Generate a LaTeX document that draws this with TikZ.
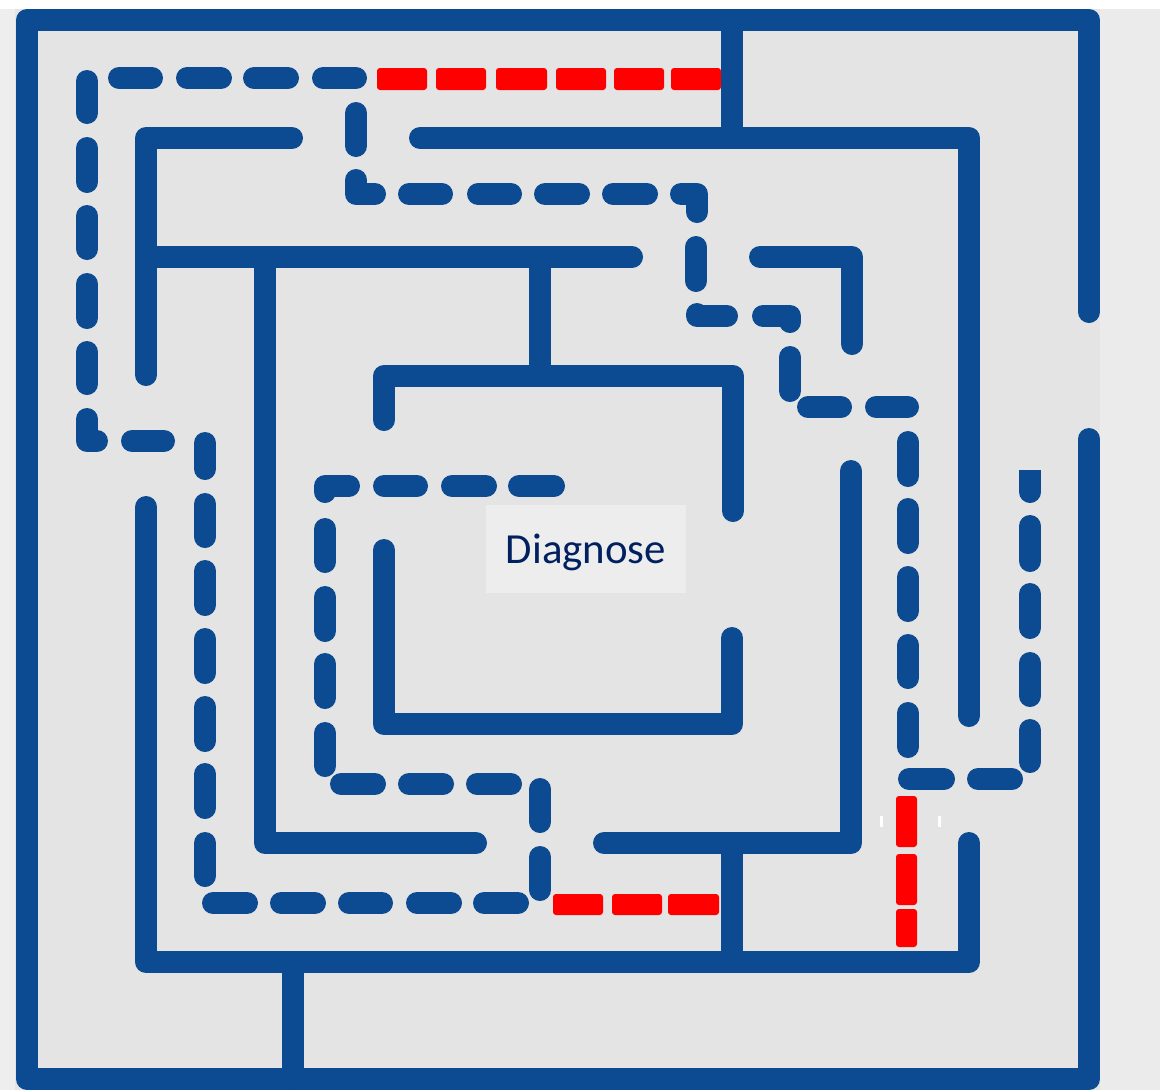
\documentclass[tikz,border=0pt]{standalone}
\usepackage{fontspec}
\newfontfamily\carlito{Carlito}
\definecolor{mazeblue}{RGB}{12,74,145}
\definecolor{mazebg}{RGB}{228,228,228}
\definecolor{rightbg}{RGB}{235,235,235}
\definecolor{leftbg}{RGB}{238,238,238}
\definecolor{boxbg}{RGB}{237,237,237}
\definecolor{navytext}{RGB}{0,32,96}
\begin{document}
\begin{tikzpicture}[x=0.5mm,y=-0.5mm,
  wall/.style={draw=mazeblue,line width=11mm,line cap=round,line join=round},
  bdash/.style={draw=mazeblue,line width=11mm,line cap=round,line join=round},
  rdash/.style={fill=red,rounded corners=1.5mm},
  tick/.style={fill=white}]
\useasboundingbox (0,0) rectangle (1160,1090);
% backgrounds
\fill[white] (0,0) rectangle (1160,1090);
\fill[leftbg] (0,9) rectangle (15,1090);
\fill[mazebg] (15,9) rectangle (1100,1090);
\fill[rightbg] (1100,9) rectangle (1160,1090);
% walls
\draw[wall] (1089,312) -- (1089,20) -- (27,20) -- (27,1079) -- (1089,1079) -- (1089,439);
\draw[wall] (732,20) -- (732,138);
\draw[wall] (420,138) -- (969,138) -- (969,716);
\draw[wall] (292,138) -- (146,138) -- (146,375);
\draw[wall] (146,257) -- (632,257);
\draw[wall] (265,257) -- (265,843) -- (476,843);
\draw[wall] (540,257) -- (540,376);
\draw[wall] (384,420) -- (384,376) -- (733,376) -- (733,511);
\draw[wall] (384,550) -- (384,724) -- (732,724) -- (732,638);
\draw[wall] (604,843) -- (851,843) -- (851,471);
\draw[wall] (732,843) -- (732,962);
\draw[wall] (146,507) -- (146,962) -- (969,962) -- (969,843);
\draw[wall] (293,962) -- (293,1079);
\draw[wall] (760,257) -- (852,257) -- (852,344);
% blue dashed path: top and left
\draw[bdash] (87,81) -- (87,113);
\draw[bdash] (119,78) -- (152,78);
\draw[bdash] (187,78) -- (221,78);
\draw[bdash] (254,78) -- (288,78);
\draw[bdash] (323,78) -- (356,78);
\draw[bdash] (87,148) -- (87,182);
\draw[bdash] (87,216) -- (87,249);
\draw[bdash] (87,284) -- (87,318);
\draw[bdash] (87,352) -- (87,384);
\draw[bdash] (87,419) -- (87,441) -- (97,441);
\draw[bdash] (132,441) -- (164,441);
\draw[bdash] (205,443) -- (205,469);
\draw[bdash] (205,504) -- (205,537);
\draw[bdash] (205,571) -- (205,605);
\draw[bdash] (205,639) -- (205,673);
\draw[bdash] (205,707) -- (205,741);
\draw[bdash] (205,774) -- (205,808);
\draw[bdash] (205,843) -- (205,876);
\draw[bdash] (213,903) -- (247,903);
\draw[bdash] (281,903) -- (315,903);
\draw[bdash] (349,903) -- (382,903);
\draw[bdash] (417,903) -- (451,903);
\draw[bdash] (484,903) -- (518,903);
\draw[bdash] (540,857) -- (540,890);
\draw[bdash] (540,789) -- (540,822);
\draw[bdash] (477,784) -- (511,784);
\draw[bdash] (409,784) -- (443,784);
\draw[bdash] (341,784) -- (375,784);
\draw[bdash] (325,733) -- (325,766);
\draw[bdash] (325,664) -- (325,698);
\draw[bdash] (325,597) -- (325,631);
\draw[bdash] (325,529) -- (325,562);
\draw[bdash] (325,492) -- (325,486) -- (349,486);
\draw[bdash] (384,486) -- (417,486);
\draw[bdash] (452,486) -- (486,486);
\draw[bdash] (519,486) -- (554,486);
% blue dashed path: upper and right
\draw[bdash] (356,113) -- (356,146);
\draw[bdash] (356,180) -- (356,194) -- (375,194);
\draw[bdash] (409,194) -- (442,194);
\draw[bdash] (478,194) -- (511,194);
\draw[bdash] (545,194) -- (579,194);
\draw[bdash] (613,194) -- (647,194);
\draw[bdash] (681,194) -- (697,194) -- (697,212);
\draw[bdash] (696,247) -- (696,281);
\draw[bdash] (697,314) -- (697,316) -- (727,316);
\draw[bdash] (763,316) -- (790,316) -- (790,322);
\draw[bdash] (790,357) -- (790,391);
\draw[bdash] (808,407) -- (841,407);
\draw[bdash] (876,407) -- (908,407);
\draw[bdash] (908,442) -- (908,476);
\draw[bdash] (908,509) -- (908,543);
\draw[bdash] (908,577) -- (908,611);
\draw[bdash] (908,645) -- (908,678);
\draw[bdash] (908,713) -- (908,747);
\draw[bdash] (909,779) -- (944,779);
\draw[bdash] (978,779) -- (1012,779);
\draw[bdash] (1030,730) -- (1030,762);
\draw[bdash] (1030,663) -- (1030,696);
\draw[bdash] (1030,594) -- (1030,628);
\draw[bdash] (1030,526) -- (1030,561);
\fill[mazeblue] (1019,470) rectangle (1041,492);
\fill[mazeblue] (1030,492) circle (11);
% red dashes
\foreach \a/\b in {377/427,436/486,496/547,556/606,614/664,671/721}
  \fill[rdash] (\a,68) rectangle (\b,90);
\foreach \a/\b in {553/603,612/662,668/719}
  \fill[rdash] (\a,894) rectangle (\b,915);
\foreach \a/\b in {796/847,854/905,909/947}
  \fill[rdash] (896,\a) rectangle (917,\b);
% small white ticks
\fill[tick] (880,816) rectangle (883,827);
\fill[tick] (938,816) rectangle (941,827);
% label
\fill[boxbg] (486,505) rectangle (686,593);
\node[text=navytext,font=\carlito\fontsize{61}{62}\selectfont,inner sep=0pt] (diag) at (586,552) {Diagnose};
\end{tikzpicture}
\end{document}
